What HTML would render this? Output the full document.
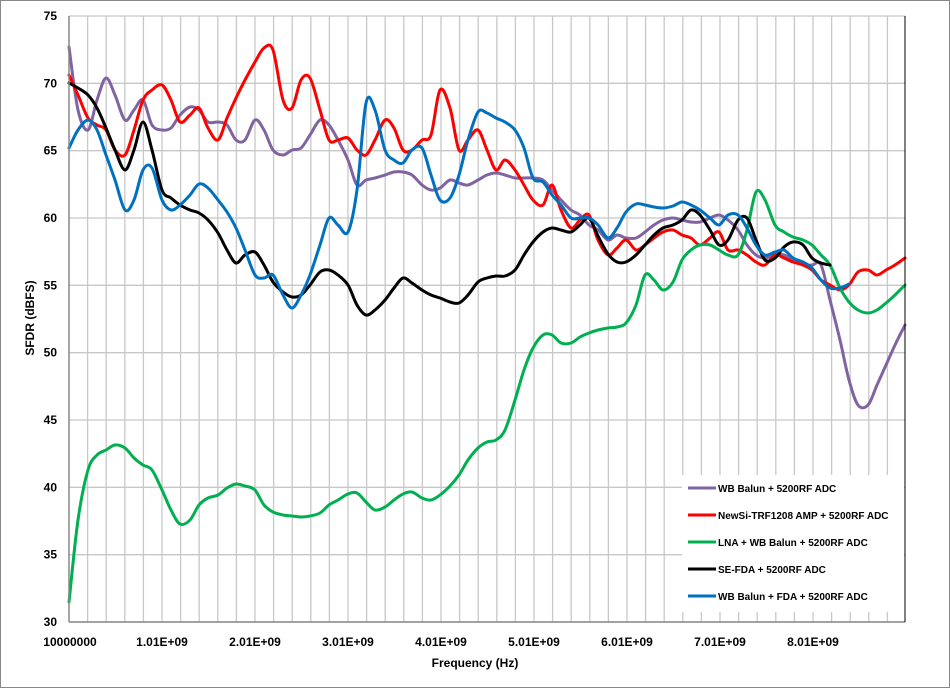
<!DOCTYPE html>
<html><head><meta charset="utf-8"><style>
body{margin:0;background:#fff}
svg{display:block;font-family:"Liberation Sans",sans-serif;font-weight:bold}
</style></head><body>
<svg id="s" width="950" height="688" viewBox="0 0 950 688">
<rect x="0.5" y="0.5" width="949" height="687" fill="#fff" stroke="#888"/>
<g id="grid" stroke="#c8c8c8" stroke-width="1.3"></g>
<g fill="none" stroke-width="3" stroke-linejoin="round" stroke-linecap="round" id="lines"></g>
<line x1="69" y1="16" x2="69" y2="622" stroke="#888" stroke-width="1.5"/>
<line x1="69" y1="622" x2="905" y2="622" stroke="#888" stroke-width="1.5"/>
<line x1="905" y1="16" x2="905" y2="622" stroke="#000" stroke-width="1"/>
<g font-size="12" text-anchor="end" id="yl"></g>
<g font-size="12" text-anchor="middle">
<text x="70" y="646">10000000</text><text x="162" y="646">1.01E+09</text><text x="255" y="646">2.01E+09</text><text x="348" y="646">3.01E+09</text><text x="441" y="646">4.01E+09</text><text x="534" y="646">5.01E+09</text><text x="627" y="646">6.01E+09</text><text x="720" y="646">7.01E+09</text><text x="813" y="646">8.01E+09</text>
<text x="475" y="667">Frequency (Hz)</text>
<text transform="translate(34,318) rotate(-90)">SFDR (dBFS)</text>
</g>
<rect x="682" y="475" width="222" height="137" fill="#fff"/>
<g font-size="10" stroke-width="3">
<line x1="688" y1="488" x2="716" y2="488" stroke="#8064a2"/><text x="718" y="492">WB Balun + 5200RF ADC</text>
<line x1="688" y1="515" x2="716" y2="515" stroke="#ff0000"/><text x="718" y="519">NewSi-TRF1208 AMP + 5200RF ADC</text>
<line x1="688" y1="542" x2="716" y2="542" stroke="#00b050"/><text x="718" y="546">LNA + WB Balun + 5200RF ADC</text>
<line x1="688" y1="569" x2="716" y2="569" stroke="#000"/><text x="718" y="573">SE-FDA + 5200RF ADC</text>
<line x1="688" y1="596" x2="716" y2="596" stroke="#0070c0"/><text x="718" y="600">WB Balun + FDA + 5200RF ADC</text>
</g>
</svg>
<script>
var NS="http://www.w3.org/2000/svg";
var g=document.getElementById('grid'),yl=document.getElementById('yl');
for(var i=1;i<=45;i++){var x=69+i*18.6;if(x>904)break;var l=document.createElementNS(NS,'line');l.setAttribute('x1',x);l.setAttribute('x2',x);l.setAttribute('y1',16);l.setAttribute('y2',622);g.appendChild(l);}
for(var v=30;v<=75;v+=5){var y=622-(v-30)*606/45;var l=document.createElementNS(NS,'line');l.setAttribute('x1',69);l.setAttribute('x2',905);l.setAttribute('y1',y);l.setAttribute('y2',y);g.appendChild(l);
var t=document.createElementNS(NS,'text');t.setAttribute('x',57);t.setAttribute('y',y+4);t.textContent=v;yl.appendChild(t);}
var xs=[69,78,88,97,106,115,125,134,143,152,162,171,180,190,199,208,218,227,236,245,255,264,273,283,292,301,310,320,329,338,348,357,366,375,385,394,403,412,422,431,440,450,459,468,478,487,496,505,515,524,533,543,552,561,571,580,589,598,608,617,626,636,645,654,663,673,682,691,700,710,719,728,738,747,756,765,775,784,793,803,812,821,830,840,849,858,868,877,886,895,905];
var S=[
["#8064a2",[47,110,130,100,78,95,120,110,100,125,130,128,115,107,110,122,122,125,140,140,120,130,150,155,150,148,135,120,125,140,160,185,180,178,175,172,172,175,185,190,188,180,183,185,180,175,173,175,178,178,178,180,190,200,210,215,225,230,240,235,238,238,232,225,220,218,220,222,222,218,215,220,230,245,255,258,255,255,260,265,265,265,300,340,380,405,405,385,365,345,325]],
["#ff0000",[75,95,118,125,130,150,155,130,100,90,85,100,122,115,108,128,140,118,98,80,62,48,50,100,108,80,78,110,140,140,138,150,155,140,120,128,150,150,140,135,90,108,150,140,130,150,170,160,170,185,200,205,185,210,228,220,215,240,255,248,240,250,245,238,232,230,235,238,245,238,232,250,250,255,262,265,255,258,262,265,270,280,285,290,285,272,270,275,270,265,258]],
["#00b050",[602,520,470,455,450,445,448,458,465,470,490,510,524,520,505,498,495,488,484,486,490,505,512,515,516,517,516,513,505,500,494,493,502,510,507,500,494,492,498,500,495,486,475,460,448,442,440,430,400,370,348,335,335,343,343,337,333,330,328,327,323,305,275,280,290,282,260,250,245,245,250,255,255,230,192,200,225,232,237,240,245,255,265,288,302,310,313,310,303,295,285]],
["#000000",[83,88,95,108,128,150,170,150,122,150,190,198,205,210,213,220,233,250,263,255,252,265,282,292,297,295,285,272,270,275,285,305,315,310,300,288,278,283,290,295,298,302,303,295,282,278,276,276,270,255,242,232,228,230,232,225,218,236,254,262,262,255,245,235,228,225,220,210,215,230,245,240,220,218,240,260,258,247,242,245,258,263,265]],
["#0070c0",[148,130,120,130,155,180,210,200,170,168,200,210,205,195,184,188,200,212,228,250,275,278,275,295,308,295,275,245,218,225,232,190,103,110,150,160,163,150,148,175,200,198,175,140,112,113,118,122,130,148,178,182,195,205,218,218,218,225,238,228,212,204,205,207,208,206,202,205,210,218,225,215,215,228,245,255,252,250,258,262,268,280,288,288,284]]];
var L=document.getElementById('lines');
S.forEach(function(s){var ys=s[1],p=[];for(var i=0;i<ys.length;i++)p.push([xs[i],ys[i]]);
var d="M"+p[0][0]+","+p[0][1];
for(var i=0;i<p.length-1;i++){var p0=p[i-1]||p[i],p1=p[i],p2=p[i+1],p3=p[i+2]||p2;
d+=" C"+(p1[0]+(p2[0]-p0[0])/6)+","+(p1[1]+(p2[1]-p0[1])/6)+" "+(p2[0]-(p3[0]-p1[0])/6)+","+(p2[1]-(p3[1]-p1[1])/6)+" "+p2[0]+","+p2[1];}
var e=document.createElementNS(NS,'path');e.setAttribute('d',d);e.setAttribute('stroke',s[0]);L.appendChild(e);});
</script>
</body></html>
